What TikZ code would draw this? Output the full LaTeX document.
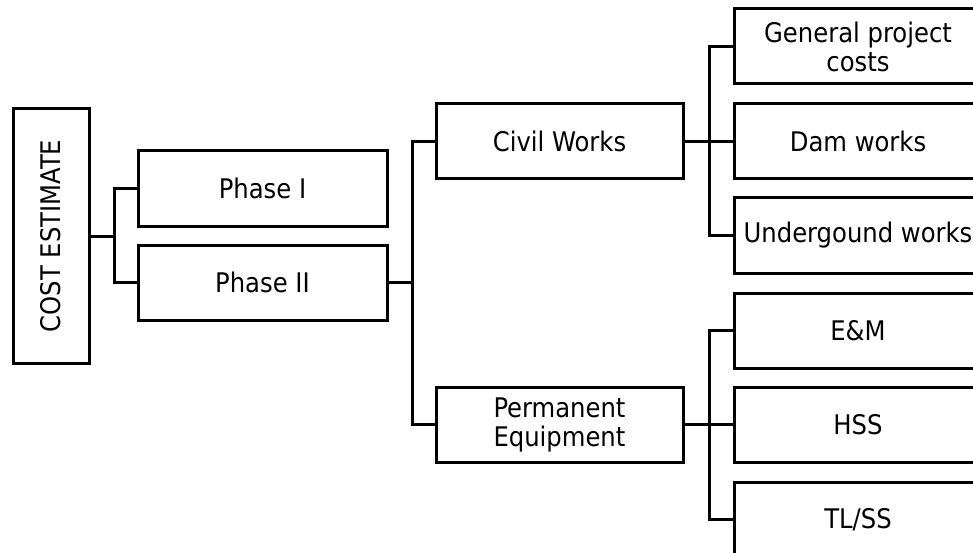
\documentclass[tikz,border=0pt]{standalone}
\usepackage{fontspec}
\setmainfont{DejaVu Sans Condensed}
\begin{document}
\begin{tikzpicture}[x=1pt,y=-1pt,
  txt/.style={font=\fontsize{27}{29}\selectfont},
  box/.style={draw,line width=3pt,inner sep=0pt,align=center,txt},
  link/.style={line width=3pt}]
\useasboundingbox (0,0) rectangle (973,553);
\begin{scope}
\clip (0,0) rectangle (973,553);
% root and phases
\node[box,minimum width=76pt,minimum height=254pt] (ce) at (51,236) {};
\node[rotate=90,txt] (cet) at (ce.center) {COST ESTIMATE};
\node[box,minimum width=249pt,minimum height=75pt] (p1) at (262.5,188.5) {Phase I};
\node[box,minimum width=249pt,minimum height=75pt] (p2) at (262.5,282.5) {Phase II};
% second level
\node[box,minimum width=247pt,minimum height=75pt] (cw) at (559.5,141.5) {Civil Works};
\node[box,minimum width=247pt,minimum height=75pt] (pe) at (559.5,424.5) {Permanent\\Equipment};
% third level
\node[box,minimum width=248pt,minimum height=75pt] (gp) at (858,46.5) {General project\\costs};
\node[box,minimum width=248pt,minimum height=75pt] (dw) at (858,141.5) {Dam works};
\node[box,minimum width=248pt,minimum height=75pt] (uw) at (858,235.5) {Undergound works};
\node[box,minimum width=248pt,minimum height=75pt] (em) at (858,330.5) {E\&M};
\node[box,minimum width=248pt,minimum height=75pt] (hs) at (858,424.5) {HSS};
\node[box,minimum width=248pt,minimum height=75pt] (tl) at (858,519.5) {TL/SS};
% bus coordinates
\coordinate (b1) at (114,236);
\coordinate (b2) at (412,282.5);
\coordinate (b3) at (709,141.5);
\coordinate (b4) at (709,424.5);
% connectors
\draw[link] (ce.east) -- (b1);
\draw[link] (b1) |- (p1.west);
\draw[link] (b1) |- (p2.west);
\draw[link] (p2.east) -- (b2);
\draw[link] (b2) |- (cw.west);
\draw[link] (b2) |- (pe.west);
\draw[link] (cw.east) -- (dw.west);
\draw[link] (b3) |- (gp.west);
\draw[link] (b3) |- (uw.west);
\draw[link] (pe.east) -- (hs.west);
\draw[link] (b4) |- (em.west);
\draw[link] (b4) |- (tl.west);
\end{scope}
\end{tikzpicture}
\end{document}
